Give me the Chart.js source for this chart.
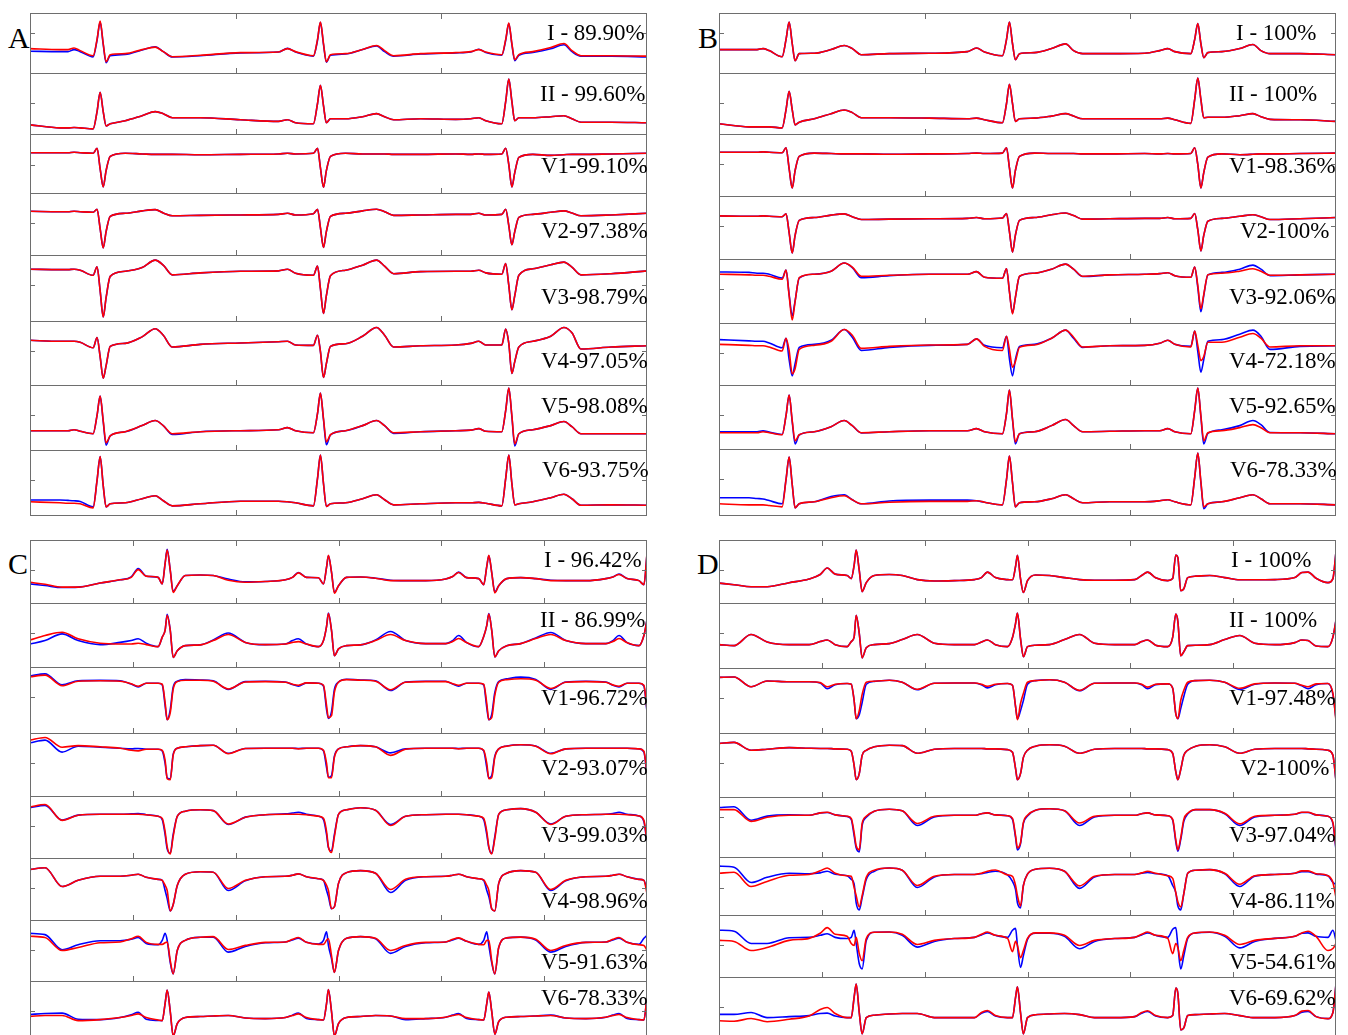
<!DOCTYPE html>
<html>
<head>
<meta charset="utf-8">
<title>ECG leads</title>
<script src="https://cdn.jsdelivr.net/npm/chart.js@4.4.1/dist/chart.umd.min.js"></script>
<style>
  html, body { margin: 0; padding: 0; background: #fff; }
  body { position: relative; width: 1348px; height: 1035px; overflow: hidden; font-family: "Liberation Serif", "Times New Roman", serif; }
  canvas { position: absolute; }
  .lbl { position: absolute; font-size: 23px; line-height: 23px; white-space: nowrap; color: #000; z-index: 2; }
  .pan { position: absolute; font-size: 30px; line-height: 30px; color: #000; z-index: 2; }
</style>
</head>
<body>
<script>
// sample times in ms (panels A/B share one recording, C/D another)
var timeAB = [0,146,185,214,244,307,326,341,356,370,
  390,463,545,609,648,692,828,1023,1208,1252,
  1291,1378,1398,1412,1427,1441,1461,1534,1617,1685,
  1724,1768,1899,2070,2143,2182,2216,2294,2313,2328,
  2343,2357,2377,2445,2532,2596,2635,2679,2825,3000];
var timeCD = [0,73,156,234,341, 438,492,526,565,623, 643,657,667,682,696,
  716,755,828,891,964, 1047,1144,1242,1276,1305, 1344,1403,1427,1442,1451,
  1466,1480,1500,1539,1607, 1680,1753,1826,1924,2021, 2055,2084,2123,2182,2206,
  2221,2231,2245,2260,2279, 2318,2386,2459,2532,2605, 2703,2800,2834,2864,2903,
  2961,2985,3000];

var labelsA = ['I - 89.90%','II - 99.60%','V1-99.10%','V2-97.38%','V3-98.79%','V4-97.05%','V5-98.08%','V6-93.75%'];
var labelsB = ['I - 100%','II - 100%','V1-98.36%','V2-100%','V3-92.06%','V4-72.18%','V5-92.65%','V6-78.33%'];
var labelsC = ['I - 96.42%','II - 86.99%','V1-96.72%','V2-93.07%','V3-99.03%','V4-98.96%','V5-91.63%','V6-78.33%'];
var labelsD = ['I - 100%','II - 100%','V1-97.48%','V2-100%','V3-97.04%','V4-86.11%','V5-54.61%','V6-69.62%'];

// ---- panel A (mV) ----
var aRedI = [-0.125,-0.15,-0.15,-0.11,-0.175,-0.3,0.1,0.55,0,-0.45,
  -0.275,-0.25,-0.15,-0.09,-0.2,-0.325,-0.29,-0.225,-0.21,-0.125,
  -0.2,-0.3,0.1,0.53,0,-0.45,-0.275,-0.25,-0.15,-0.05,
  -0.175,-0.3,-0.25,-0.225,-0.2,-0.15,-0.21,-0.275,0.1,0.5,
  0,-0.4,-0.275,-0.2,-0.1,0,-0.175,-0.3,-0.3,-0.31];
var aBlueI = [-0.19,-0.2,-0.2,-0.15,-0.2,-0.33,0.08,0.53,-0.02,-0.47,
  -0.3,-0.27,-0.16,-0.08,-0.2,-0.33,-0.3,-0.23,-0.21,-0.12,
  -0.21,-0.31,0.08,0.52,-0.02,-0.46,-0.29,-0.26,-0.15,-0.06,
  -0.2,-0.31,-0.26,-0.23,-0.21,-0.14,-0.22,-0.29,0.08,0.49,
  -0.02,-0.42,-0.29,-0.22,-0.13,-0.03,-0.2,-0.31,-0.31,-0.33];
var aRedII = [-0.525,-0.6,-0.6,-0.59,-0.6,-0.625,-0.2,0.275,-0.2,-0.55,
  -0.5,-0.425,-0.3,-0.2,-0.25,-0.35,-0.35,-0.4,-0.44,-0.4,
  -0.475,-0.5,0,0.45,-0.05,-0.475,-0.375,-0.375,-0.325,-0.25,
  -0.325,-0.4,-0.375,-0.39,-0.375,-0.35,-0.425,-0.5,0.05,0.6,
  0.05,-0.425,-0.35,-0.35,-0.325,-0.3,-0.375,-0.46,-0.46,-0.475];
var aRedV1 = [0.29,0.29,0.29,0.3,0.29,0.275,0.4,-0.1,-0.55,-0.15,
  0.2,0.275,0.26,0.25,0.25,0.25,0.24,0.25,0.26,0.275,
  0.26,0.275,0.4,-0.075,-0.56,-0.15,0.2,0.275,0.26,0.26,
  0.26,0.25,0.25,0.26,0.25,0.26,0.25,0.26,0.4,0,
  -0.55,-0.2,0.175,0.25,0.225,0.24,0.25,0.25,0.26,0.275];
var aRedV2 = [0.3,0.29,0.29,0.3,0.29,0.275,0.35,-0.125,-0.6,-0.2,
  0.175,0.25,0.31,0.34,0.26,0.19,0.2,0.21,0.225,0.25,
  0.21,0.24,0.35,-0.1,-0.59,-0.2,0.175,0.25,0.31,0.35,
  0.29,0.2,0.21,0.225,0.225,0.25,0.21,0.225,0.35,-0.05,
  -0.525,-0.2,0.15,0.225,0.275,0.31,0.26,0.19,0.21,0.25];
var aRedV3 = [0.4,0.39,0.39,0.4,0.375,0.25,0.46,-0.125,-0.775,-0.3,
  0.225,0.35,0.44,0.625,0.5,0.26,0.31,0.35,0.36,0.4,
  0.3,0.25,0.475,-0.075,-0.69,-0.25,0.24,0.375,0.5,0.625,
  0.475,0.29,0.34,0.35,0.35,0.375,0.31,0.275,0.54,0,
  -0.6,-0.25,0.25,0.41,0.51,0.575,0.45,0.26,0.29,0.36];
var aRedV4 = [0.275,0.25,0.25,0.25,0.225,0.09,0.34,-0.125,-0.66,-0.35,
  0.125,0.2,0.36,0.56,0.4,0.11,0.175,0.21,0.24,0.25,
  0.16,0.15,0.4,0,-0.64,-0.3,0.125,0.19,0.375,0.59,
  0.4,0.11,0.14,0.16,0.2,0.25,0.16,0.16,0.55,0.2,
  -0.54,-0.25,0.11,0.25,0.375,0.59,0.46,0.06,0.11,0.14];
var aRedV5 = [-0.375,-0.375,-0.375,-0.35,-0.39,-0.45,0,0.475,-0.125,-0.675,
  -0.5,-0.4,-0.25,-0.125,-0.25,-0.45,-0.4,-0.375,-0.35,-0.3,
  -0.375,-0.425,0.05,0.55,-0.075,-0.65,-0.475,-0.375,-0.25,-0.125,
  -0.25,-0.425,-0.4,-0.375,-0.36,-0.325,-0.39,-0.4,0.125,0.675,
  0,-0.7,-0.45,-0.35,-0.25,-0.15,-0.275,-0.45,-0.45,-0.45];
var aBlueV5 = [-0.375,-0.375,-0.375,-0.35,-0.39,-0.45,0,0.475,-0.15,-0.73,
  -0.5,-0.4,-0.25,-0.125,-0.25,-0.47,-0.4,-0.375,-0.35,-0.3,
  -0.375,-0.425,0.05,0.55,-0.1,-0.72,-0.475,-0.375,-0.25,-0.125,
  -0.25,-0.44,-0.4,-0.375,-0.36,-0.325,-0.39,-0.4,0.125,0.675,
  -0.03,-0.75,-0.45,-0.35,-0.25,-0.15,-0.275,-0.45,-0.45,-0.45];
var aRedV6 = [-0.525,-0.55,-0.56,-0.56,-0.575,-0.675,0,0.59,-0.125,-0.65,
  -0.575,-0.55,-0.45,-0.375,-0.5,-0.625,-0.575,-0.51,-0.51,-0.525,
  -0.55,-0.625,0.05,0.625,-0.075,-0.64,-0.575,-0.55,-0.45,-0.35,
  -0.475,-0.6,-0.575,-0.55,-0.55,-0.54,-0.56,-0.625,0.05,0.625,
  -0.075,-0.6,-0.575,-0.525,-0.425,-0.34,-0.45,-0.61,-0.6,-0.61];
var aBlueV6 = [-0.48,-0.48,-0.49,-0.5,-0.52,-0.65,0,0.59,-0.125,-0.65,
  -0.575,-0.55,-0.45,-0.375,-0.5,-0.625,-0.575,-0.51,-0.51,-0.525,
  -0.55,-0.625,0.05,0.625,-0.075,-0.64,-0.575,-0.55,-0.45,-0.35,
  -0.475,-0.6,-0.575,-0.55,-0.55,-0.54,-0.56,-0.625,0.05,0.625,
  -0.075,-0.6,-0.575,-0.525,-0.425,-0.34,-0.45,-0.61,-0.6,-0.61];

// ---- panel B ----
var bRedI = [-0.15,-0.15,-0.15,-0.125,-0.175,-0.325,0.1,0.525,0,-0.425,
  -0.25,-0.24,-0.15,-0.05,-0.125,-0.275,-0.25,-0.24,-0.2,-0.11,
  -0.21,-0.3,0.1,0.525,0,-0.4,-0.25,-0.225,-0.125,-0.01,
  -0.175,-0.25,-0.25,-0.24,-0.175,-0.125,-0.2,-0.25,0.1,0.49,
  0,-0.35,-0.225,-0.2,-0.125,-0.025,-0.175,-0.25,-0.25,-0.275];
var bRedII = [-0.5,-0.575,-0.575,-0.575,-0.575,-0.6,-0.15,0.3,-0.15,-0.525,
  -0.46,-0.375,-0.25,-0.16,-0.225,-0.35,-0.35,-0.36,-0.375,-0.36,
  -0.4,-0.475,0,0.475,0,-0.44,-0.375,-0.36,-0.31,-0.25,
  -0.31,-0.375,-0.375,-0.375,-0.375,-0.36,-0.4,-0.49,0.1,0.625,
  0.1,-0.35,-0.34,-0.34,-0.3,-0.25,-0.325,-0.39,-0.4,-0.44];
var bRedV1 = [0.3,0.3,0.3,0.31,0.3,0.29,0.41,-0.1,-0.58,-0.15,
  0.2,0.28,0.27,0.26,0.26,0.26,0.25,0.26,0.27,0.28,
  0.27,0.28,0.41,-0.08,-0.58,-0.15,0.2,0.28,0.27,0.27,
  0.27,0.26,0.26,0.27,0.26,0.27,0.26,0.27,0.41,0,
  -0.58,-0.2,0.18,0.26,0.24,0.25,0.26,0.26,0.27,0.28];
var bRedV2 = [0.26,0.25,0.25,0.26,0.25,0.24,0.31,-0.15,-0.65,-0.22,
  0.15,0.22,0.28,0.31,0.24,0.17,0.18,0.19,0.2,0.22,
  0.19,0.21,0.32,-0.12,-0.63,-0.22,0.15,0.22,0.29,0.33,
  0.27,0.18,0.19,0.2,0.2,0.22,0.19,0.2,0.32,-0.08,
  -0.6,-0.22,0.13,0.2,0.25,0.29,0.24,0.17,0.19,0.22];
var bRedV3 = [0.375,0.36,0.35,0.35,0.325,0.25,0.475,-0.15,-0.75,-0.3,
  0.29,0.375,0.45,0.65,0.55,0.325,0.35,0.375,0.375,0.44,
  0.3,0.275,0.51,-0.05,-0.6,-0.2,0.325,0.4,0.5,0.625,
  0.5,0.325,0.36,0.375,0.39,0.41,0.34,0.3,0.55,0.1,
  -0.475,-0.125,0.36,0.4,0.45,0.51,0.45,0.35,0.36,0.375];
var bBlueV3 = [0.43,0.42,0.4,0.4,0.375,0.28,0.475,-0.12,-0.65,-0.28,
  0.28,0.375,0.45,0.65,0.54,0.29,0.34,0.375,0.375,0.44,
  0.3,0.275,0.51,-0.04,-0.58,-0.2,0.32,0.4,0.5,0.625,
  0.5,0.32,0.36,0.375,0.39,0.41,0.34,0.3,0.55,0.05,
  -0.55,-0.15,0.36,0.42,0.5,0.6,0.5,0.34,0.36,0.375];
var bRedV4 = [0.225,0.2,0.19,0.19,0.16,0.06,0.375,0.075,-0.5,-0.375,
  0.1,0.2,0.3,0.59,0.45,0.125,0.175,0.21,0.225,0.36,
  0.175,0.075,0.425,0.1,-0.34,-0.2,0.15,0.21,0.375,0.575,
  0.4,0.16,0.19,0.2,0.25,0.325,0.225,0.16,0.55,0.2,
  -0.175,-0.075,0.275,0.275,0.4,0.49,0.375,0.16,0.19,0.19];
var bBlueV4 = [0.34,0.31,0.3,0.3,0.26,0.14,0.375,-0.15,-0.55,-0.25,
  0.15,0.225,0.325,0.59,0.4,0.075,0.15,0.2,0.225,0.36,
  0.2,0.14,0.425,-0.125,-0.55,-0.15,0.175,0.225,0.375,0.575,
  0.375,0.15,0.19,0.2,0.25,0.325,0.225,0.175,0.55,0.05,
  -0.46,-0.15,0.3,0.34,0.475,0.575,0.425,0.1,0.175,0.19];
var bRedV5 = [-0.425,-0.425,-0.425,-0.4,-0.425,-0.475,0,0.5,-0.125,-0.625,
  -0.475,-0.4,-0.275,-0.125,-0.25,-0.425,-0.4,-0.375,-0.375,-0.325,
  -0.4,-0.45,0.05,0.625,-0.075,-0.65,-0.45,-0.4,-0.25,-0.1,
  -0.25,-0.4,-0.39,-0.375,-0.375,-0.325,-0.4,-0.45,0.125,0.675,
  0,-0.625,-0.425,-0.375,-0.3,-0.225,-0.3,-0.425,-0.425,-0.45];
var bBlueV5 = [-0.4,-0.4,-0.4,-0.38,-0.41,-0.47,0,0.5,-0.15,-0.7,
  -0.48,-0.4,-0.275,-0.125,-0.25,-0.43,-0.4,-0.375,-0.375,-0.325,
  -0.4,-0.45,0.05,0.625,-0.1,-0.7,-0.45,-0.4,-0.25,-0.1,
  -0.25,-0.4,-0.39,-0.375,-0.375,-0.325,-0.4,-0.45,0.125,0.675,
  -0.03,-0.7,-0.44,-0.35,-0.25,-0.125,-0.225,-0.42,-0.425,-0.45];
var bRedV6 = [-0.6,-0.625,-0.625,-0.625,-0.64,-0.675,0,0.55,-0.125,-0.7,
  -0.6,-0.55,-0.45,-0.4,-0.5,-0.6,-0.56,-0.54,-0.54,-0.525,
  -0.56,-0.625,0,0.575,-0.075,-0.675,-0.575,-0.55,-0.475,-0.375,
  -0.475,-0.575,-0.55,-0.55,-0.525,-0.5,-0.55,-0.625,0.05,0.65,
  -0.05,-0.675,-0.6,-0.55,-0.45,-0.375,-0.475,-0.6,-0.6,-0.625];
var bBlueV6 = [-0.45,-0.45,-0.47,-0.48,-0.52,-0.6,0,0.55,-0.125,-0.7,
  -0.6,-0.55,-0.42,-0.375,-0.5,-0.6,-0.53,-0.51,-0.51,-0.525,
  -0.56,-0.625,0,0.575,-0.075,-0.675,-0.575,-0.55,-0.475,-0.375,
  -0.475,-0.575,-0.55,-0.55,-0.525,-0.5,-0.55,-0.625,0.05,0.65,
  -0.07,-0.72,-0.6,-0.55,-0.45,-0.375,-0.475,-0.6,-0.6,-0.625];

// ---- panel C ----
var cRedI = [-0.29,-0.34,-0.41,-0.41,-0.31, -0.23,-0.17,0.02,-0.14,-0.17, -0.33,0.175,0.5,0,-0.54,
  -0.375,-0.125,-0.11,-0.125,-0.24, -0.29,-0.27,-0.23,-0.17,-0.06, -0.17,-0.18,-0.33,0.08,0.375,
  -0.04,-0.56,-0.375,-0.17,-0.16, -0.19,-0.25,-0.25,-0.25,-0.21, -0.15,-0.05,-0.175,-0.2,-0.35,
  0.1,0.375,-0.05,-0.55,-0.375, -0.2,-0.175,-0.2,-0.25,-0.25, -0.25,-0.2,-0.16,-0.1,-0.2,
  -0.25,-0.35,0.425];
var cBlueI = [-0.33,-0.37,-0.42,-0.41,-0.31, -0.23,-0.16,0.05,-0.14,-0.17, -0.33,0.175,0.52,0,-0.52,
  -0.375,-0.125,-0.11,-0.125,-0.21, -0.28,-0.27,-0.23,-0.17,-0.05, -0.17,-0.18,-0.33,0.08,0.36,
  -0.04,-0.54,-0.375,-0.17,-0.16, -0.19,-0.24,-0.25,-0.25,-0.21, -0.15,-0.04,-0.175,-0.2,-0.35,
  0.1,0.36,-0.05,-0.53,-0.375, -0.2,-0.175,-0.2,-0.24,-0.25, -0.25,-0.2,-0.16,-0.09,-0.2,
  -0.25,-0.35,0.4];
var cRedII = [-0.16,-0.05,0.03,-0.13,-0.24, -0.26,-0.26,-0.24,-0.275,-0.325, -0.09,0.08,0.45,0.075,-0.59,
  -0.425,-0.3,-0.28,-0.175,-0.025, -0.22,-0.275,-0.26,-0.22,-0.2, -0.26,-0.325,-0.175,0.175,0.49,
  0.075,-0.55,-0.38,-0.3,-0.28, -0.175,-0.025,-0.175,-0.25,-0.25, -0.2,-0.125,-0.225,-0.325,-0.075,
  0.2,0.475,0.075,-0.575,-0.425, -0.3,-0.25,-0.125,-0.025,-0.175, -0.25,-0.25,-0.2,-0.125,-0.225,
  -0.3,-0.05,0.325];
var cBlueII = [-0.26,-0.175,-0.01,-0.175,-0.275, -0.22,-0.175,-0.13,-0.24,-0.325, -0.09,0.08,0.47,0.075,-0.59,
  -0.425,-0.3,-0.28,-0.16,0.01, -0.22,-0.275,-0.26,-0.175,-0.13, -0.26,-0.325,-0.175,0.175,0.5,
  0.075,-0.55,-0.38,-0.3,-0.28, -0.16,0.05,-0.175,-0.25,-0.25, -0.175,-0.05,-0.225,-0.325,-0.075,
  0.2,0.49,0.075,-0.575,-0.425, -0.3,-0.25,-0.11,0.025,-0.175, -0.25,-0.25,-0.175,-0.05,-0.225,
  -0.3,-0.05,0.34];
var cRedV1 = [0.51,0.55,0.29,0.4,0.41, 0.4,0.34,0.275,0.35,0.35, 0.325,-0.125,-0.55,-0.375,0.2,
  0.39,0.425,0.425,0.4,0.21, 0.38,0.39,0.375,0.325,0.3, 0.36,0.35,0.3,-0.2,-0.5,
  -0.45,0.125,0.375,0.44,0.425, 0.4,0.19,0.375,0.39,0.39, 0.34,0.3,0.35,0.35,0.325,
  -0.15,-0.55,-0.5,0.05,0.375, 0.44,0.46,0.425,0.22,0.375, 0.39,0.375,0.31,0.275,0.35,
  0.35,0.3,-0.3];
var cBlueV1 = [0.53,0.58,0.31,0.41,0.42, 0.41,0.33,0.26,0.35,0.35, 0.31,-0.2,-0.55,-0.3,0.25,
  0.4,0.44,0.43,0.41,0.2, 0.39,0.4,0.38,0.32,0.28, 0.36,0.35,0.28,-0.3,-0.52,
  -0.35,0.2,0.38,0.45,0.43, 0.41,0.17,0.38,0.4,0.4, 0.33,0.28,0.35,0.35,0.31,
  -0.25,-0.55,-0.42,0.12,0.39, 0.46,0.5,0.44,0.2,0.38, 0.4,0.38,0.3,0.26,0.35,
  0.35,0.28,-0.35];
var cRedV2 = [0.575,0.64,0.4,0.44,0.41, 0.375,0.325,0.31,0.35,0.35, 0.325,0.075,-0.375,-0.4,0.2,
  0.375,0.41,0.44,0.45,0.24, 0.37,0.375,0.375,0.375,0.36, 0.375,0.375,0.325,0,-0.35,
  -0.35,0.15,0.36,0.41,0.44, 0.41,0.2,0.35,0.375,0.375, 0.375,0.36,0.375,0.375,0.325,
  0,-0.375,-0.35,0.15,0.36, 0.425,0.46,0.425,0.24,0.36, 0.375,0.375,0.375,0.375,0.375,
  0.36,0.3,-0.25];
var cBlueV2 = [0.51,0.575,0.28,0.425,0.4, 0.375,0.36,0.37,0.35,0.35, 0.31,0,-0.35,-0.38,0.22,
  0.375,0.41,0.44,0.45,0.25, 0.37,0.375,0.375,0.375,0.37, 0.375,0.375,0.31,-0.1,-0.34,
  -0.3,0.18,0.36,0.41,0.44, 0.41,0.26,0.36,0.375,0.375, 0.375,0.37,0.375,0.375,0.31,
  -0.1,-0.36,-0.3,0.18,0.36, 0.43,0.46,0.43,0.25,0.36, 0.375,0.375,0.375,0.375,0.375,
  0.36,0.28,-0.3];
var cRedV3 = [0.48,0.54,0.15,0.275,0.3, 0.3,0.3,0.3,0.29,0.25, 0.2,-0.125,-0.5,-0.675,-0.25,
  0.25,0.375,0.41,0.39,0.06, 0.225,0.29,0.3,0.3,0.3, 0.29,0.25,0.2,-0.125,-0.5,
  -0.64,-0.25,0.3,0.41,0.46, 0.4,0.025,0.25,0.29,0.3, 0.3,0.3,0.29,0.25,0.2,
  -0.125,-0.5,-0.675,-0.3,0.3, 0.41,0.44,0.35,0.05,0.25, 0.29,0.3,0.3,0.3,0.29,
  0.26,0.15,-0.375];
var cBlueV3 = [0.46,0.52,0.16,0.28,0.3, 0.3,0.31,0.32,0.29,0.25, 0.17,-0.2,-0.55,-0.66,-0.2,
  0.25,0.375,0.41,0.39,0.05, 0.23,0.29,0.31,0.33,0.35, 0.3,0.25,0.17,-0.2,-0.52,
  -0.6,-0.2,0.3,0.41,0.46, 0.4,0.05,0.25,0.29,0.3, 0.3,0.3,0.29,0.25,0.17,
  -0.2,-0.52,-0.66,-0.25,0.3, 0.41,0.44,0.35,0.06,0.25, 0.29,0.3,0.32,0.35,0.3,
  0.26,0.12,-0.4];
var cRedV4 = [0.47,0.51,0.05,0.2,0.3, 0.3,0.325,0.35,0.275,0.225, 0.2,0.075,-0.05,-0.55,-0.4,
  0.075,0.35,0.41,0.4,0, 0.2,0.29,0.3,0.325,0.36, 0.29,0.24,0.2,0.075,-0.05,
  -0.5,-0.45,0.125,0.39,0.44, 0.375,-0.025,0.225,0.29,0.3, 0.325,0.35,0.29,0.24,0.21,
  0.075,-0.05,-0.5,-0.55,0.125, 0.375,0.44,0.4,-0.025,0.2, 0.29,0.3,0.325,0.35,0.29,
  0.225,0.2,-0.125];
var cBlueV4 = [0.47,0.51,0.05,0.2,0.3, 0.3,0.325,0.35,0.275,0.225, 0.2,-0.05,-0.25,-0.55,-0.4,
  0.075,0.35,0.41,0.4,-0.05, 0.19,0.29,0.3,0.325,0.36, 0.29,0.24,0.2,-0.05,-0.2,
  -0.5,-0.45,0.125,0.39,0.44, 0.375,-0.1,0.2,0.29,0.3, 0.325,0.35,0.29,0.24,0.2,
  -0.05,-0.2,-0.5,-0.55,0.125, 0.375,0.44,0.4,-0.05,0.19, 0.29,0.3,0.325,0.35,0.29,
  0.225,0.2,-0.05];
var cRedV5 = [0.35,0.32,0,0.075,0.19, 0.21,0.29,0.35,0.2,0.15, 0.15,0.19,0.21,-0.25,-0.575,
  0,0.25,0.325,0.34,0.025, 0.125,0.2,0.21,0.275,0.32, 0.2,0.15,0.15,0.25,0.29,
  -0.125,-0.54,0,0.3,0.34, 0.3,0,0.125,0.2,0.21, 0.275,0.31,0.225,0.15,0.14,
  0.25,0.25,-0.25,-0.575,0.075, 0.31,0.33,0.275,0,0.125, 0.2,0.21,0.275,0.32,0.2,
  0.14,0.125,0];
var cBlueV5 = [0.42,0.39,0.02,0.14,0.24, 0.24,0.275,0.32,0.175,0.14, 0.25,0.42,0.25,-0.3,-0.575,
  0,0.25,0.325,0.33,-0.04, 0.1,0.19,0.21,0.26,0.3, 0.2,0.16,0.25,0.46,0.125,
  -0.2,-0.54,0,0.3,0.34, 0.29,-0.07,0.1,0.19,0.21, 0.26,0.3,0.225,0.15,0.25,
  0.46,0.125,-0.3,-0.575,0.075, 0.31,0.33,0.26,-0.04,0.1, 0.2,0.21,0.26,0.3,0.2,
  0.15,0.3,0.375];
var cRedV6 = [-0.12,-0.1,-0.1,-0.225,-0.2, -0.15,-0.1,-0.06,-0.15,-0.21, -0.225,0.2,0.525,0,-0.6,
  -0.3,-0.15,-0.125,-0.11,-0.1, -0.16,-0.175,-0.15,-0.1,-0.06, -0.15,-0.2,-0.21,0.2,0.54,
  0,-0.6,-0.3,-0.15,-0.125, -0.1,-0.11,-0.175,-0.175,-0.14, -0.1,-0.075,-0.15,-0.2,-0.21,
  0.2,0.48,0,-0.56,-0.25, -0.14,-0.125,-0.11,-0.1,-0.16, -0.175,-0.14,-0.1,-0.075,-0.15,
  -0.2,-0.21,0.375];
var cBlueV6 = [-0.075,-0.05,-0.04,-0.19,-0.2, -0.15,-0.08,-0.02,-0.19,-0.22, -0.225,0.2,0.525,0,-0.6,
  -0.3,-0.15,-0.125,-0.11,-0.1, -0.16,-0.175,-0.15,-0.09,-0.04, -0.17,-0.2,-0.21,0.2,0.54,
  0,-0.6,-0.3,-0.15,-0.125, -0.1,-0.11,-0.2,-0.175,-0.14, -0.09,-0.05,-0.17,-0.2,-0.21,
  0.2,0.48,0,-0.56,-0.25, -0.14,-0.125,-0.11,-0.09,-0.16, -0.175,-0.14,-0.09,-0.05,-0.17,
  -0.2,-0.21,0.36];

// ---- panel D ----
var dRedI = [-0.31,-0.35,-0.4,-0.4,-0.3, -0.21,-0.1,0.06,-0.09,-0.125, -0.2,0.125,0.5,0,-0.52,
  -0.3,-0.125,-0.1,-0.125,-0.225, -0.26,-0.25,-0.225,-0.175,-0.04, -0.175,-0.225,-0.23,0.1,0.375,
  -0.2,-0.54,-0.25,-0.11,-0.125, -0.175,-0.225,-0.24,-0.24,-0.225, -0.125,-0.04,-0.18,-0.25,-0.2,
  0.38,0.32,-0.5,-0.45,-0.175, -0.14,-0.125,-0.175,-0.23,-0.23, -0.225,-0.175,-0.05,-0.04,-0.19,
  -0.3,-0.2,0.46];
var dRedII = [-0.275,-0.3,-0.025,-0.21,-0.275, -0.275,-0.2,-0.16,-0.275,-0.325, -0.2,-0.09,0.45,0,-0.6,
  -0.35,-0.275,-0.25,-0.15,-0.025, -0.24,-0.275,-0.275,-0.21,-0.16, -0.275,-0.325,-0.1,0.25,0.5,
  -0.125,-0.575,-0.325,-0.29,-0.275, -0.15,-0.025,-0.24,-0.275,-0.275, -0.2,-0.16,-0.29,-0.325,-0.09,
  0.475,0.3,-0.55,-0.45,-0.3, -0.29,-0.275,-0.15,-0.05,-0.24, -0.275,-0.225,-0.16,-0.175,-0.31,
  -0.325,-0.09,0.33];
var dRedV1 = [0.52,0.53,0.29,0.43,0.41, 0.41,0.39,0.29,0.35,0.37, 0.35,-0.05,-0.5,-0.3,0.1,
  0.4,0.425,0.45,0.4,0.225, 0.375,0.38,0.38,0.35,0.3, 0.35,0.37,0.325,-0.2,-0.525,
  -0.125,0.125,0.4,0.44,0.46, 0.4,0.2,0.375,0.38,0.38, 0.35,0.28,0.35,0.36,0.25,
  -0.375,-0.5,-0.05,0.2,0.4, 0.44,0.45,0.4,0.25,0.36, 0.38,0.375,0.325,0.29,0.36,
  0.37,0.125,-0.55];
var dBlueV1 = [0.52,0.53,0.29,0.43,0.41, 0.41,0.38,0.24,0.34,0.37, 0.35,-0.05,-0.5,-0.4,-0.1,
  0.35,0.42,0.45,0.4,0.215, 0.375,0.38,0.38,0.34,0.26, 0.34,0.37,0.325,-0.2,-0.5,
  -0.3,-0.05,0.35,0.44,0.46, 0.4,0.19,0.375,0.38,0.38, 0.34,0.24,0.34,0.36,0.25,
  -0.375,-0.5,-0.25,0.05,0.35, 0.44,0.45,0.4,0.22,0.35, 0.38,0.375,0.31,0.24,0.34,
  0.37,0.1,-0.5];
var dRedV2 = [0.49,0.52,0.325,0.35,0.39, 0.375,0.37,0.37,0.36,0.35, 0.3,-0.05,-0.4,-0.25,0.2,
  0.325,0.41,0.45,0.44,0.25, 0.35,0.37,0.37,0.37,0.36, 0.36,0.34,0.275,-0.125,-0.4,
  -0.25,0.15,0.325,0.425,0.46, 0.425,0.25,0.35,0.37,0.37, 0.37,0.36,0.36,0.34,0.25,
  -0.2,-0.4,-0.15,0.2,0.325, 0.425,0.46,0.41,0.25,0.35, 0.37,0.37,0.37,0.36,0.35,
  0.325,0.2,-0.425];
var dRedV3 = [0.44,0.44,0.15,0.25,0.3, 0.3,0.36,0.375,0.31,0.275, 0.225,-0.125,-0.45,-0.55,0.1,
  0.275,0.4,0.45,0.41,0.1, 0.275,0.3,0.3,0.34,0.36, 0.31,0.29,0.225,-0.2,-0.5,
  -0.375,0.125,0.3,0.425,0.46, 0.41,0.11,0.275,0.3,0.3, 0.34,0.36,0.31,0.29,0.2,
  -0.3,-0.55,-0.25,0.2,0.35, 0.44,0.44,0.35,0.09,0.275, 0.3,0.325,0.375,0.375,0.31,
  0.275,0.125,-0.5];
var dBlueV3 = [0.49,0.51,0.18,0.28,0.31, 0.3,0.36,0.37,0.31,0.27, 0.2,-0.2,-0.5,-0.6,0.05,
  0.25,0.4,0.45,0.41,0.05, 0.26,0.3,0.3,0.34,0.36, 0.31,0.29,0.2,-0.25,-0.55,
  -0.4,0.1,0.28,0.425,0.46, 0.41,0.05,0.26,0.3,0.3, 0.34,0.36,0.31,0.29,0.18,
  -0.35,-0.58,-0.3,0.15,0.33, 0.44,0.44,0.34,0.05,0.26, 0.3,0.325,0.37,0.37,0.31,
  0.275,0.1,-0.55];
var dRedV4 = [0.35,0.375,0.025,0.15,0.3, 0.32,0.41,0.48,0.35,0.29, 0.275,0,-0.2,-0.475,-0.2,
  0.25,0.425,0.48,0.425,0.05, 0.275,0.32,0.32,0.35,0.4, 0.43,0.31,0.275,0.05,-0.2,
  -0.45,0.05,0.33,0.45,0.475, 0.4,0.04,0.275,0.32,0.32, 0.36,0.4,0.35,0.29,0.225,
  -0.125,-0.35,-0.475,-0.15,0.35, 0.425,0.44,0.35,0.08,0.29, 0.32,0.35,0.41,0.41,0.34,
  0.29,0.125,-0.25];
var dBlueV4 = [0.525,0.5,0.125,0.25,0.35, 0.34,0.36,0.4,0.325,0.29, 0.2,0.09,-0.375,-0.55,-0.25,
  0.2,0.4,0.48,0.425,0, 0.26,0.32,0.32,0.34,0.37, 0.4,0.31,0.15,-0.05,-0.375,
  -0.5,0.05,0.33,0.45,0.475, 0.4,-0.02,0.26,0.32,0.32, 0.35,0.37,0.34,0.29,0.05,
  -0.125,-0.45,-0.55,-0.15,0.35, 0.425,0.44,0.34,0.025,0.28, 0.32,0.35,0.39,0.39,0.33,
  0.29,0.125,0.075];
var dRedV5 = [0.125,0.1,-0.125,-0.05,0.125, 0.175,0.3,0.44,0.275,0.225, 0.05,0,0.2,-0.2,-0.375,
  0.17,0.325,0.33,0.275,0.025, 0.125,0.17,0.2,0.275,0.33, 0.25,0.175,-0.15,0.1,0,
  -0.3,-0.125,0.175,0.31,0.31, 0.25,0,0.125,0.17,0.2, 0.275,0.33,0.25,0.175,-0.2,
  0.05,-0.05,-0.375,-0.125,0.2, 0.31,0.33,0.25,0.025,0.125, 0.175,0.225,0.31,0.35,0.225,
  -0.125,-0.075,0.05];
var dBlueV5 = [0.375,0.35,0.05,0.05,0.19, 0.2,0.25,0.29,0.2,0.17, 0.2,0.375,0.05,-0.45,-0.575,
  0.125,0.325,0.33,0.25,-0.04, 0.1,0.17,0.2,0.26,0.31, 0.25,0.2,0.375,0.42,0,
  -0.54,-0.25,0.15,0.3,0.3, 0.225,-0.08,0.1,0.17,0.2, 0.26,0.31,0.25,0.2,0.4,
  0.44,0,-0.58,-0.25,0.175, 0.31,0.325,0.225,-0.06,0.1, 0.175,0.225,0.3,0.31,0.225,
  0.2,0.375,0.125];
var dRedV6 = [-0.325,-0.34,-0.27,-0.35,-0.29, -0.21,-0.05,0,-0.15,-0.25, -0.25,0.25,0.575,-0.125,-0.65,
  -0.25,-0.19,-0.16,-0.15,-0.15, -0.25,-0.25,-0.25,-0.125,-0.075, -0.2,-0.25,-0.25,0.25,0.51,
  -0.125,-0.65,-0.25,-0.18,-0.16, -0.15,-0.175,-0.25,-0.25,-0.225, -0.125,-0.08,-0.2,-0.25,-0.2,
  0.475,0.35,-0.55,-0.5,-0.2, -0.175,-0.16,-0.15,-0.2,-0.25, -0.25,-0.2,-0.09,-0.075,-0.225,
  -0.275,-0.125,0.575];
var dBlueV6 = [-0.17,-0.17,-0.125,-0.25,-0.225, -0.2,-0.15,-0.14,-0.21,-0.25, -0.25,0.25,0.575,-0.125,-0.65,
  -0.25,-0.19,-0.16,-0.15,-0.15, -0.25,-0.25,-0.25,-0.14,-0.1, -0.21,-0.25,-0.25,0.25,0.51,
  -0.125,-0.65,-0.25,-0.18,-0.16, -0.15,-0.175,-0.25,-0.25,-0.225, -0.14,-0.1,-0.21,-0.25,-0.2,
  0.475,0.35,-0.55,-0.5,-0.2, -0.175,-0.16,-0.15,-0.2,-0.25, -0.25,-0.2,-0.12,-0.1,-0.225,
  -0.275,-0.125,0.575];

// layout of the four panels (page pixels)
var panels = [
  { letter: 'A', left: 30, rows: [13,73,134,193,255,321,385,450,515], time: timeAB, xStep: 1000,
    labels: labelsA, labelX: [517,510,511,511,511,511,511,512], labelY: [20,81,153,218,284,348,393,457],
    letterPos: [8, 48],
    red: [aRedI,aRedII,aRedV1,aRedV2,aRedV3,aRedV4,aRedV5,aRedV6],
    blue: [aBlueI,aRedII,aRedV1,aRedV2,aRedV3,aRedV4,aBlueV5,aBlueV6] },
  { letter: 'B', left: 719, rows: [13,73,134,196,259,323,385,449,515], time: timeAB, xStep: 1000,
    labels: labelsB, labelX: [517,510,510,521,510,510,510,511], labelY: [20,81,153,218,284,348,393,457],
    letterPos: [698, 48],
    red: [bRedI,bRedII,bRedV1,bRedV2,bRedV3,bRedV4,bRedV5,bRedV6],
    blue: [bRedI,bRedII,bRedV1,bRedV2,bBlueV3,bBlueV4,bBlueV5,bBlueV6] },
  { letter: 'C', left: 30, rows: [540,603,667,733,796,858,920,981,1043], time: timeCD, xStep: 500,
    labels: labelsC, labelX: [514,510,511,511,511,511,511,511], labelY: [20,80,158,228,295,361,422,458],
    letterPos: [8, 574],
    red: [cRedI,cRedII,cRedV1,cRedV2,cRedV3,cRedV4,cRedV5,cRedV6],
    blue: [cBlueI,cBlueII,cBlueV1,cBlueV2,cBlueV3,cBlueV4,cBlueV5,cBlueV6] },
  { letter: 'D', left: 719, rows: [540,603,668,733,797,857,915,977,1040], time: timeCD, xStep: 500,
    labels: labelsD, labelX: [512,510,510,521,510,510,510,510], labelY: [20,80,158,228,295,361,422,458],
    letterPos: [697, 574],
    red: [dRedI,dRedII,dRedV1,dRedV2,dRedV3,dRedV4,dRedV5,dRedV6],
    blue: [dRedI,dRedII,dBlueV1,dRedV2,dBlueV3,dBlueV4,dBlueV5,dBlueV6] }
];

var PANEL_W = 616, PX_PER_MV = 40, Y_TOP = 0.75;

// row frame + inward tick marks, placed with the chart's own scales
var framePlugin = {
  id: 'frame',
  afterDatasetsDraw: function(chart, args, opts) {
    var ctx = chart.ctx, a = chart.chartArea, sx = chart.scales.x, sy = chart.scales.y;
    ctx.save();
    ctx.strokeStyle = '#6e6e6e';
    ctx.lineWidth = 1;
    ctx.strokeRect(a.left + 0.5, a.top + 0.5, a.right - a.left - 1, a.bottom - a.top - 1);
    ctx.beginPath();
    sx.ticks.forEach(function(t) {
      if (t.value <= sx.min || t.value >= sx.max) return;
      var x = Math.round(sx.getPixelForValue(t.value)) + 0.5;
      ctx.moveTo(x, a.bottom); ctx.lineTo(x, a.bottom - 6);
      if (opts.top) { ctx.moveTo(x, a.top); ctx.lineTo(x, a.top + 6); }
    });
    sy.ticks.forEach(function(t) {
      if (t.value <= sy.min + 0.05 || t.value >= sy.max - 0.05) return;
      var y = Math.round(sy.getPixelForValue(t.value)) + 0.5;
      ctx.moveTo(a.left, y); ctx.lineTo(a.left + 5, y);
      ctx.moveTo(a.right, y); ctx.lineTo(a.right - 5, y);
    });
    ctx.stroke();
    ctx.restore();
  }
};

function toPoints(time, vals) {
  return time.map(function(t, k) { return { x: t, y: vals[k] }; });
}

function drawRow(p, i) {
  var top = p.rows[i], h = p.rows[i + 1] - top;
  var cv = document.createElement('canvas');
  cv.width = PANEL_W + 1;
  cv.height = h + 1;
  cv.style.left = p.left + 'px';
  cv.style.top = top + 'px';
  document.body.appendChild(cv);

  new Chart(cv.getContext('2d'), {
    type: 'line',
    data: {
      datasets: [
        { data: toPoints(p.time, p.red[i]), borderColor: '#ff0000', borderWidth: 1.6,
          pointRadius: 0, cubicInterpolationMode: 'monotone' },
        { data: toPoints(p.time, p.blue[i]), borderColor: '#0000ff', borderWidth: 1.6,
          pointRadius: 0, cubicInterpolationMode: 'monotone' }
      ]
    },
    options: {
      responsive: false,
      animation: false,
      devicePixelRatio: 1,
      events: [],
      layout: { padding: 0 },
      plugins: { legend: { display: false }, tooltip: { enabled: false }, frame: { top: i === 0 } },
      scales: {
        x: { type: 'linear', display: false, min: 0, max: 3000, ticks: { stepSize: p.xStep } },
        y: { type: 'linear', display: false, min: Y_TOP - h / PX_PER_MV, max: Y_TOP, ticks: { stepSize: 0.5 } }
      }
    },
    plugins: [framePlugin]
  });

  var lb = document.createElement('div');
  lb.className = 'lbl';
  lb.textContent = p.labels[i];
  lb.style.left = (p.left + p.labelX[i]) + 'px';
  lb.style.top = (p.rows[0] + p.labelY[i] - 11.7) + 'px';
  document.body.appendChild(lb);
}

panels.forEach(function(p) {
  for (var i = 0; i < 8; i++) drawRow(p, i);
  var L = document.createElement('div');
  L.className = 'pan';
  L.textContent = p.letter;
  L.style.left = p.letterPos[0] + 'px';
  L.style.top = (p.letterPos[1] - 25.1) + 'px';
  document.body.appendChild(L);
});
</script>
</body>
</html>
